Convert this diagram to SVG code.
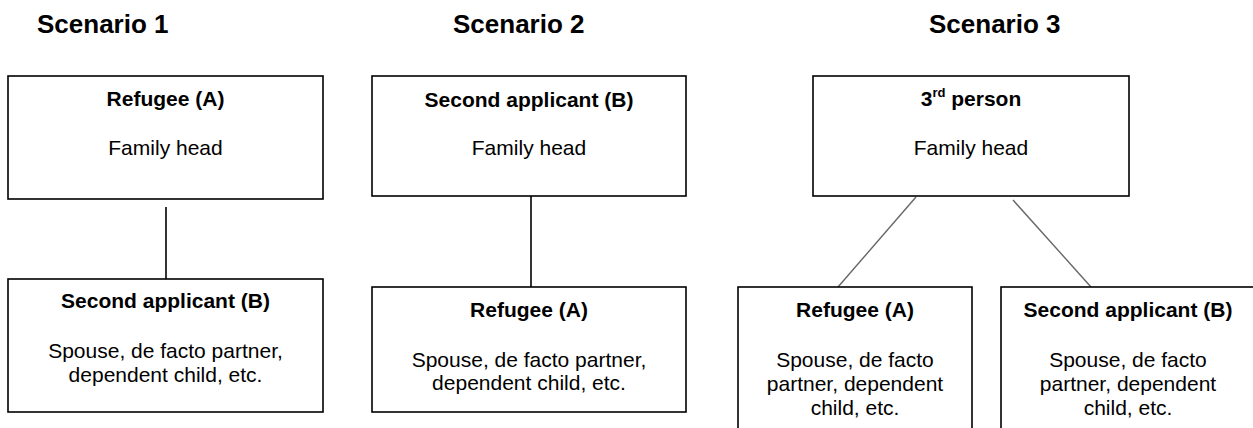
<svg xmlns="http://www.w3.org/2000/svg" width="1253" height="428" viewBox="0 0 1253 428">
<style>
.bg{fill:#fff}
.box{fill:#fff;stroke:#000;stroke-width:1.6}
.title{font-family:"Liberation Sans",Arial,sans-serif;font-size:26px;font-weight:bold;fill:#000}
.hd{font-family:"Liberation Sans",Arial,sans-serif;font-size:21px;font-weight:bold;fill:#000;text-anchor:middle}
.tx{font-family:"Liberation Sans",Arial,sans-serif;font-size:21px;fill:#000;text-anchor:middle}
.sup{font-size:13px}
.line{stroke:#000;stroke-width:1.6;fill:none}
.diag{stroke:#666;stroke-width:1.4;fill:none}
</style>
<rect class="bg" x="0" y="0" width="1253" height="428"/>
<g id="titles">
<text class="title" x="37" y="33">Scenario 1</text>
<text class="title" x="453" y="33">Scenario 2</text>
<text class="title" x="929" y="33">Scenario 3</text>
</g>
<g id="connectors">
<line class="line" x1="166" y1="207" x2="166" y2="279"/>
<line class="line" x1="531" y1="196" x2="531" y2="287"/>
<line class="diag" x1="916" y1="197" x2="838" y2="287"/>
<line class="diag" x1="1013" y1="200" x2="1091" y2="287"/>
</g>
<g id="s1-top">
<rect class="box" x="8" y="76" width="315" height="123"/>
<text class="hd" x="165.5" y="106">Refugee (A)</text>
<text class="tx" x="165.5" y="155">Family head</text>
</g>
<g id="s1-bottom">
<rect class="box" x="8" y="279" width="315" height="133"/>
<text class="hd" x="165.5" y="308">Second applicant (B)</text>
<text class="tx" x="165.5" y="358">Spouse, de facto partner,</text>
<text class="tx" x="165.5" y="382">dependent child, etc.</text>
</g>
<g id="s2-top">
<rect class="box" x="372" y="76" width="314" height="120"/>
<text class="hd" x="529" y="107">Second applicant (B)</text>
<text class="tx" x="529" y="155">Family head</text>
</g>
<g id="s2-bottom">
<rect class="box" x="372" y="287" width="314" height="125"/>
<text class="hd" x="529" y="317">Refugee (A)</text>
<text class="tx" x="529" y="367">Spouse, de facto partner,</text>
<text class="tx" x="529" y="390">dependent child, etc.</text>
</g>
<g id="s3-top">
<rect class="box" x="813" y="76" width="316" height="120"/>
<text class="hd" x="971" y="106">3<tspan class="sup" dy="-9">rd</tspan><tspan dy="9"> person</tspan></text>
<text class="tx" x="971" y="155">Family head</text>
</g>
<g id="s3-left">
<rect class="box" x="738" y="287" width="234" height="160"/>
<text class="hd" x="855" y="317">Refugee (A)</text>
<text class="tx" x="855" y="367">Spouse, de facto</text>
<text class="tx" x="855" y="391">partner, dependent</text>
<text class="tx" x="855" y="415">child, etc.</text>
</g>
<g id="s3-right">
<rect class="box" x="1001" y="287" width="260" height="160"/>
<text class="hd" x="1128" y="317">Second applicant (B)</text>
<text class="tx" x="1128" y="367">Spouse, de facto</text>
<text class="tx" x="1128" y="391">partner, dependent</text>
<text class="tx" x="1128" y="415">child, etc.</text>
</g>
</svg>
